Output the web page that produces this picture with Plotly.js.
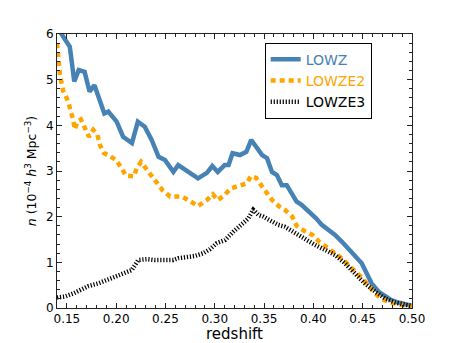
<!DOCTYPE html>
<html>
<head>
<meta charset="utf-8">
<script src="https://cdn.plot.ly/plotly-3.0.1.min.js"></script>
<style>html,body{margin:0;padding:0;background:#fff;}#chart{width:458px;height:343px;}</style>
</head>
<body>
<div id="chart"></div>
<script>
// LOWZ
const zLOWZ = [0.140,0.145,0.153,0.1575,0.162,0.168,0.173,0.178,0.188,0.192,0.2005,0.207,0.216,0.222,0.229,0.236,0.243,0.2495,0.258,0.263,0.270,0.275,0.283,0.292,0.2975,0.303,0.310,0.314,0.318,0.3256,0.332,0.337,0.342,0.348,0.353,0.358,0.363,0.368,0.373,0.378,0.383,0.388,0.392,0.398,0.403,0.4085,0.415,0.422,0.429,0.435,0.442,0.449,0.454,0.459,0.466,0.473,0.479,0.486,0.493,0.500];
const nLOWZ = [6.15,6.0,5.72,4.96,5.21,5.17,4.74,4.88,4.26,4.30,4.08,3.75,3.61,4.08,3.97,3.68,3.31,3.24,2.98,3.13,3.02,2.95,2.84,2.96,3.11,2.98,3.13,3.13,3.39,3.35,3.42,3.68,3.53,3.35,3.28,2.98,2.91,2.69,2.69,2.51,2.33,2.26,2.18,2.07,1.96,1.82,1.71,1.60,1.45,1.31,1.16,0.98,0.76,0.54,0.36,0.25,0.175,0.12,0.08,0.05];
// LOWZE2
const zLOWZE2 = [0.140,0.142,0.143,0.1464,0.1515,0.154,0.1565,0.158,0.161,0.1643,0.1684,0.1724,0.1768,0.181,0.1836,0.1877,0.192,0.1998,0.2056,0.2097,0.218,0.2208,0.2252,0.229,0.236,0.247,0.2546,0.2597,0.2665,0.275,0.2827,0.2918,0.298,0.303,0.3097,0.3165,0.324,0.3324,0.3367,0.342,0.3476,0.3527,0.3583,0.365,0.371,0.3786,0.383,0.3905,0.399,0.406,0.4135,0.421,0.4293,0.436,0.443,0.449,0.4557,0.4625,0.470,0.478,0.488,0.497,0.500];
const nLOWZE2 = [5.8,5.36,5.10,4.74,4.52,4.30,4.12,3.91,4.09,4.13,3.93,3.75,3.90,3.79,3.57,3.39,3.35,3.24,3.06,2.90,2.88,3.06,3.20,3.09,2.88,2.58,2.44,2.44,2.44,2.34,2.23,2.36,2.49,2.36,2.47,2.62,2.66,2.73,2.89,2.85,2.67,2.51,2.36,2.23,2.15,2.00,1.80,1.69,1.60,1.45,1.33,1.21,1.08,0.93,0.80,0.67,0.49,0.32,0.19,0.12,0.07,0.03,0.03];
// LOWZE3
const zLOWZE3 = [0.140,0.148,0.1566,0.163,0.172,0.182,0.192,0.1988,0.2056,0.2157,0.2224,0.231,0.2394,0.2478,0.258,0.263,0.270,0.280,0.2884,0.2952,0.302,0.3104,0.3188,0.3273,0.334,0.339,0.3442,0.3492,0.3577,0.3644,0.371,0.3796,0.385,0.3915,0.4017,0.412,0.422,0.432,0.442,0.452,0.4625,0.4726,0.483,0.493,0.500];
const nLOWZE3 = [0.23,0.25,0.32,0.39,0.48,0.54,0.63,0.69,0.76,0.83,1.05,1.07,1.05,1.05,1.05,1.09,1.11,1.14,1.20,1.29,1.42,1.49,1.67,1.82,1.96,2.15,2.04,2.00,1.89,1.82,1.78,1.67,1.58,1.49,1.38,1.27,1.16,0.98,0.76,0.54,0.36,0.21,0.12,0.07,0.04];

const xTickVals = [0.15,0.20,0.25,0.30,0.35,0.40,0.45,0.50];
const xTickText = ['0.15','0.20','0.25','0.30','0.35','0.40','0.45','0.50'];
const yTickVals = [0,1,2,3,4,5,6];
const yTickText = ['0','1','2','3','4','5','6'];

const FONT = 'DejaVu Sans, sans-serif';
const traces = [
  {x: zLOWZ, y: nLOWZ, mode: 'lines', name: '<span style="color:#4682b4">LOWZ</span>',
   line: {color: '#4682b4', width: 4.5}},
  {x: zLOWZE2, y: nLOWZE2, mode: 'lines', name: '<span style="color:#ffa500">LOWZE2</span>',
   line: {color: '#ffa500', width: 4.5, dash: '5px,4px'}},
  {x: zLOWZE3, y: nLOWZE3, mode: 'lines', name: '<span style="color:#000000">LOWZE3</span>',
   line: {color: '#000000', width: 4.5, dash: '1.2px,1.8px'}}
];

const axisCommon = {
  showgrid: false, zeroline: false, showline: true, linecolor: '#222', linewidth: 1,
  mirror: 'allticks', ticks: 'inside', ticklen: 5, tickwidth: 1, tickcolor: '#222',
  tickfont: {family: FONT, size: 12, color: '#000'}
};

const layout = {
  width: 458, height: 343,
  margin: {l: 57, r: 46, t: 34, b: 35},
  paper_bgcolor: '#fff', plot_bgcolor: '#fff',
  font: {family: FONT, color: '#000'},
  showlegend: true,
  legend: {x: 0.585, y: 0.968, xanchor: 'left', yanchor: 'top',
           bordercolor: '#000', borderwidth: 1, bgcolor: '#fff',
           font: {family: FONT, size: 14}, tracegroupgap: 0},
  xaxis: Object.assign({}, axisCommon, {
    range: [0.14, 0.50], tickvals: xTickVals, ticktext: xTickText,
    minor: {dtick: 0.01, tick0: 0.14, ticks: 'inside', ticklen: 3, tickcolor: '#222'},
    title: {text: 'redshift', font: {family: FONT, size: 15}, standoff: 1}
  }),
  yaxis: Object.assign({}, axisCommon, {
    range: [0, 6], tickvals: yTickVals, ticktext: yTickText,
    minor: {dtick: 0.2, tick0: 0, ticks: 'inside', ticklen: 3, tickcolor: '#222'},
    title: {text: '<i>n</i> (10<sup>−4</sup> <i>h</i><sup>3</sup> Mpc<sup>−3</sup>)', font: {family: FONT, size: 12.5}, standoff: 6}
  })
};

Plotly.newPlot('chart', traces, layout, {staticPlot: true, displayModeBar: false});
</script>
</body>
</html>
